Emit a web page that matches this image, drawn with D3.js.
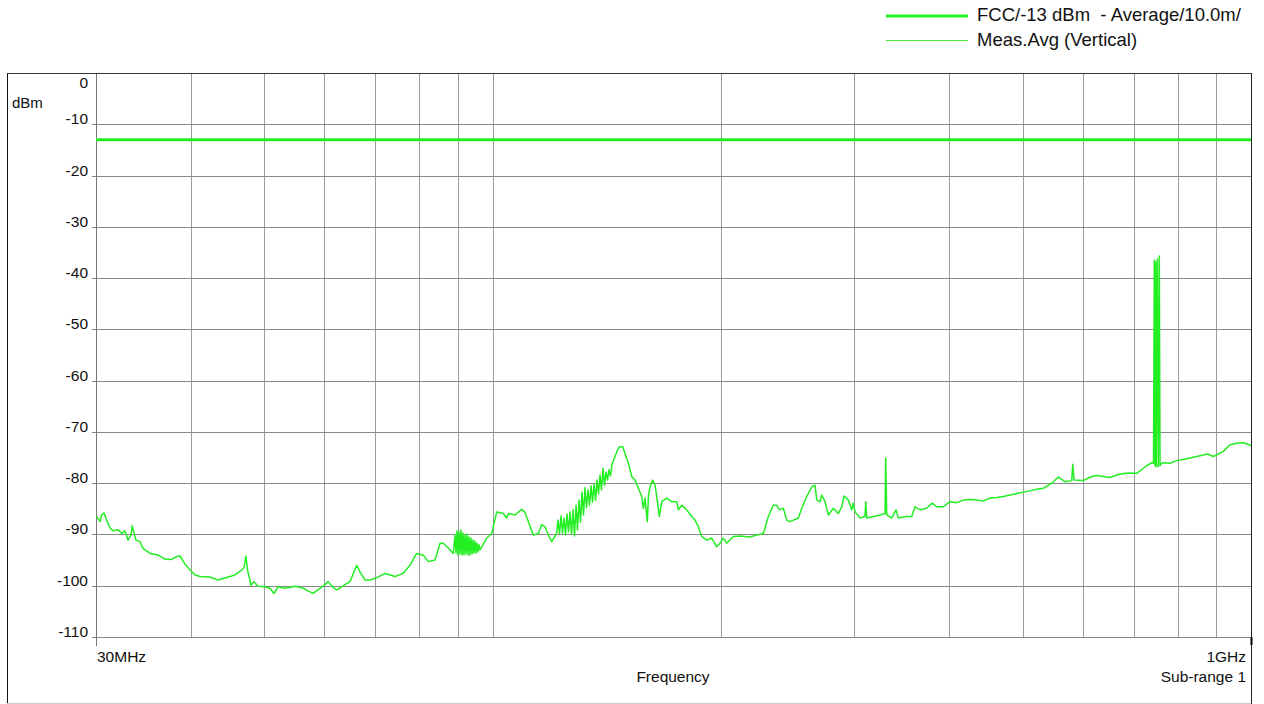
<!DOCTYPE html>
<html><head><meta charset="utf-8">
<script src="https://cdn.jsdelivr.net/npm/d3@7"></script>
<style>body{margin:0;background:#fff}svg{display:block}text{font-family:"Liberation Sans",Arial,sans-serif;fill:#111;white-space:pre}</style>
</head><body><svg id="c" width="1264" height="704"></svg>
<script>
const legendLabels=["FCC/-13 dBm  - Average/10.0m/","Meas.Avg (Vertical)"];
const yTicks=[0,-10,-20,-30,-40,-50,-60,-70,-80,-90,-100,-110];
const xGrid=[40,50,60,70,80,90,100,200,300,400,500,600,700,800,900];
const xTickLabels=[{f:30,t:"30MHz"},{f:1000,t:"1GHz"}];
const limitLevel=-13;
const freqMHz=[30.06,30.37,30.52,30.74,30.99,31.30,31.59,32.07,32.46,32.76,33.06,33.36,33.49,33.67,33.87,34.29,34.60,35.35,36.21,36.99,37.67,38.36,38.72,39.31,39.90,40.52,41.14,42.41,43.45,44.38,45.75,46.74,47.02,47.30,47.52,48.03,48.47,49.06,50.11,50.88,51.50,52.13,53.25,54.89,56.07,57.45,57.98,58.86,60.13,60.68,61.61,62.36,63.89,64.87,66.20,66.87,67.89,68.93,70.00,72.14,74.37,76.20,77.83,79.43,80.97,82.28,83.97,85.26,86.11,87.35,88.77,
89.22,89.49,89.77,90.04,90.31,90.59,90.86,91.14,91.42,91.69,91.97,92.25,92.53,92.82,93.10,93.38,93.66,93.95,94.24,94.52,94.81,95.10,95.39,95.68,95.97,96.26,
98.24,99.74,101.27,103.32,104.39,104.90,107.05,109.25,110.35,113.17,114.90,116.09,117.26,118.44,119.67,121.50,
121.98,122.54,123.10,123.66,124.23,124.79,125.36,125.93,126.51,127.09,127.67,128.25,128.84,129.43,130.01,130.61,131.20,131.80,132.40,133.01,133.62,134.23,134.84,135.45,136.07,136.69,137.32,137.94,138.57,139.20,139.84,140.48,141.12,141.76,142.41,143.06,143.71,
145.78,146.94,148.46,149.50,151.01,152.58,154.11,155.67,157.28,158.04,158.86,159.97,160.56,161.29,162.62,163.76,164.61,165.91,167.13,169.68,172.28,174.92,175.77,177.59,180.30,183.06,184.90,186.77,188.70,191.59,194.52,197.50,199.50,201.49,203.58,207.70,211.97,218.51,223.00,227.51,230.99,234.52,236.96,238.84,241.76,244.27,246.73,253.02,255.65,259.56,263.53,266.18,267.56,270.25,271.65,274.39,277.15,281.39,285.69,288.66,290.68,294.50,297.56,299.00,300.55,305.14,309.81,310.47,311.41,317.72,324.25,329.21,329.91,330.91,335.97,340.38,342.78,351.63,357.00,360.60,366.11,373.63,380.04,385.15,392.95,401.03,409.3,417.56,426.1,434.90,443.3,452.83,462.1,471.50,481.2,491.16,511.28,521.8,532.35,546.11,557.17,568.62,580.30,582.07,584.37,601.10,613.45,626.1,638.72,651.8,665.25,678.7,692.60,706.80,728.63,739.77,743.82,745.63,747.22,748.58,749.95,752.45,754.51,757.04,758.65,760.95,766.28,782.0,798.06,814.2,830.95,848.0,865.19,877.6,891.86,900.36,919.33,938.23,957.49,976.88,994.86,1000];
const levelDbm=[-86.5,-87.5,-86.2,-85.8,-87.2,-88.7,-89.3,-89.1,-89.8,-89.3,-91.1,-90.1,-88.3,-89.7,-91.1,-91.4,-92.7,-93.7,-94.0,-94.8,-94.9,-94.3,-94.2,-95.8,-96.9,-97.9,-98.2,-98.3,-98.9,-98.5,-97.9,-96.9,-96.5,-94.2,-96.9,-99.9,-99.2,-100.1,-100.2,-100.5,-101.5,-100.2,-100.5,-100.1,-100.4,-101.2,-101.5,-100.8,-99.8,-99.2,-100.3,-100.8,-99.8,-99.2,-96.0,-97.3,-98.9,-98.9,-98.6,-97.6,-98.2,-97.6,-96.0,-93.7,-94.0,-95.3,-95.0,-91.7,-91.7,-92.6,-93.7,
-90.1,-93.6,-89.3,-94.0,-89.5,-93.8,-89.1,-94.0,-89.7,-94.0,-90.1,-93.8,-89.9,-94.0,-90.5,-94.0,-90.7,-93.8,-91.1,-93.6,-91.3,-93.6,-91.7,-93.4,-92.0,-93.0,
-90.7,-89.8,-85.6,-85.9,-86.8,-85.9,-86.2,-85.1,-85.7,-90.1,-89.8,-88.1,-88.5,-90.1,-91.4,-89.8,
-87.2,-89.9,-86.4,-89.7,-86.8,-90.1,-86.0,-89.5,-85.6,-89.9,-85.2,-90.3,-84.3,-89.1,-83.3,-87.6,-81.7,-86.2,-80.9,-84.8,-81.3,-84.3,-80.5,-83.7,-80.2,-83.3,-79.4,-82.1,-78.4,-81.3,-77.1,-80.4,-77.8,-79.4,-77.4,-78.6,-76.3,
-73.9,-72.9,-72.9,-74.2,-76.1,-78.7,-79.4,-81.0,-82.6,-84.9,-82.9,-87.5,-82.3,-80.7,-79.4,-80.4,-82.6,-86.5,-83.6,-82.9,-83.6,-83.6,-85.2,-84.3,-85.2,-86.5,-87.2,-88.5,-90.4,-91.1,-90.7,-92.4,-91.7,-90.7,-91.7,-90.4,-90.3,-90.5,-90.1,-89.8,-86.5,-84.3,-84.3,-85.2,-84.9,-87.2,-87.5,-86.8,-84.9,-82.6,-80.7,-80.4,-83.3,-83.6,-82.3,-83.6,-86.2,-84.9,-85.9,-84.6,-82.5,-83.3,-85.2,-83.9,-85.6,-86.8,-86.5,-83.6,-86.8,-86.5,-86.2,-85.9,-75.1,-86.2,-86.8,-85.2,-86.8,-86.5,-86.5,-84.6,-85.2,-84.9,-83.9,-84.6,-84.6,-83.6,-83.8,-83.3,-83.2,-83.3,-83.5,-82.9,-82.8,-82.6,-82.3,-82.0,-81.5,-81.2,-81.0,-80.0,-78.8,-79.7,-79.5,-76.3,-79.4,-79.5,-78.8,-78.5,-78.7,-78.9,-78.4,-78.1,-78.0,-78.1,-76.6,-76.0,-76.1,-36.5,-76.6,-36.8,-76.8,-36.3,-76.8,-35.7,-76.6,-76.2,-76.0,-76.1,-75.6,-75.4,-75.1,-74.8,-74.5,-74.3,-74.8,-74.5,-73.8,-72.5,-72.2,-72.1,-72.5,-72.7];

const svg=d3.select("#c");
const L=96,R=1251,T=73,B=637;
const x=d3.scaleLog().domain([30,1000]).range([L,R]);
const y=d3.scaleLinear().domain([-110,0]).range([B,T]);
const green="#22ee22";
svg.append("line").attr("x1",7.5).attr("x2",7.5).attr("y1",T).attr("y2",704).attr("stroke","#111");
svg.append("line").attr("x1",7).attr("x2",R+1).attr("y1",703.5).attr("y2",703.5).attr("stroke","#ccc");
svg.append("g").selectAll("line").data(xGrid).join("line")
 .attr("x1",d=>Math.round(x(d))+0.5).attr("x2",d=>Math.round(x(d))+0.5).attr("y1",T).attr("y2",B).attr("stroke","#9a9a9a");
svg.append("g").selectAll("line").data(yTicks.filter(d=>d!==0)).join("line")
 .attr("x1",L-4).attr("x2",R).attr("y1",d=>Math.round(y(d))+0.5).attr("y2",d=>Math.round(y(d))+0.5).attr("stroke","#888");
svg.append("line").attr("x1",L+0.5).attr("x2",L+0.5).attr("y1",T).attr("y2",B+9).attr("stroke","#777");
svg.append("line").attr("x1",7).attr("x2",R+1).attr("y1",T+0.5).attr("y2",T+0.5).attr("stroke","#333");
svg.append("line").attr("x1",R+0.5).attr("x2",R+0.5).attr("y1",T).attr("y2",704).attr("stroke","#222");
svg.append("line").attr("x1",R+0.5).attr("x2",R+0.5).attr("y1",B).attr("y2",B+8).attr("stroke","#000").attr("stroke-width",2);
svg.append("g").selectAll("text").data(yTicks).join("text")
 .attr("x",88).attr("y",d=>d===0?88:y(d)).attr("text-anchor","end").attr("font-size","15.5px").text(d=>d);
svg.append("text").attr("x",12).attr("y",108).attr("font-size","15px").text("dBm");
svg.append("text").attr("x",97).attr("y",662).attr("font-size","15.5px").text(xTickLabels[0].t);
svg.append("text").attr("x",1246).attr("y",662).attr("text-anchor","end").attr("font-size","15.5px").text(xTickLabels[1].t);
svg.append("text").attr("x",1246).attr("y",682).attr("text-anchor","end").attr("font-size","15.5px").text("Sub-range 1");
svg.append("text").attr("x",673).attr("y",682).attr("text-anchor","middle").attr("font-size","15.5px").text("Frequency");
svg.append("line").attr("x1",L).attr("x2",R).attr("y1",y(limitLevel)).attr("y2",y(limitLevel)).attr("stroke",green).attr("stroke-width",3);
const pts=freqMHz.map((f,i)=>[f,levelDbm[i]]);
svg.append("path").datum(pts).attr("fill","none").attr("stroke",green).attr("stroke-width",1.5).attr("stroke-linejoin","round")
 .attr("d",d3.line().x(d=>x(d[0])).y(d=>y(d[1])));
const lg=svg.append("g");
lg.append("line").attr("x1",886).attr("x2",968).attr("y1",16).attr("y2",16).attr("stroke",green).attr("stroke-width",3);
lg.append("line").attr("x1",886).attr("x2",968).attr("y1",40.5).attr("y2",40.5).attr("stroke","#44ee44").attr("stroke-width",1.2);
lg.append("text").attr("x",977).attr("y",21).attr("font-size","18.5px").text(legendLabels[0]);
lg.append("text").attr("x",977).attr("y",46).attr("font-size","18.5px").text(legendLabels[1]);
</script></body></html>
